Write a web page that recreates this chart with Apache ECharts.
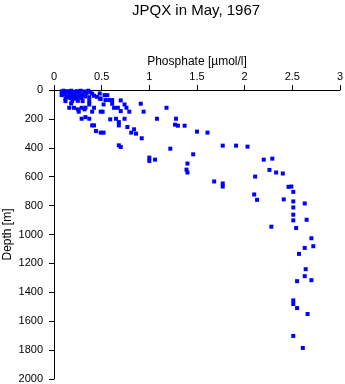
<!DOCTYPE html>
<html>
<head>
<meta charset="utf-8">
<script src="https://cdn.jsdelivr.net/npm/echarts@6/dist/echarts.min.js"></script>
<style>
html,body{margin:0;padding:0;background:#fff;}
#chart{width:345px;height:384px;}
</style>
</head>
<body>
<div id="chart"></div>
<script>
var titleText = "JPQX in May, 1967";
var xName = "Phosphate [\u00b5mol/l]";
var yName = "Depth [m]";
var xTicks = [0, 0.5, 1, 1.5, 2, 2.5, 3];
var yTicks = [0, 200, 400, 600, 800, 1000, 1200, 1400, 1600, 1800, 2000];

var phosphate = [
  0.08,0.10,0.12,0.14,0.16,0.18,0.20,0.22,0.24,0.26,0.28,0.30,0.32,0.34,0.36,0.38,0.40,
  0.11,0.15,0.19,0.23,0.27,0.09,0.13,0.17,0.21,0.25,0.29,0.33,0.37,0.42,0.08,0.12,
  0.48,0.53,0.56,0.45,0.48,0.49,0.54,0.58,0.61,0.52,0.61,0.63,0.67,0.70,0.70,0.74,0.76,0.79,0.91,0.94,
  0.12,0.18,0.19,0.25,0.30,0.37,0.16,0.21,0.25,0.26,0.29,0.32,0.33,0.37,0.40,0.42,
  0.29,0.33,0.37,0.40,0.42,0.44,0.49,0.52,0.49,0.51,
  0.59,0.65,0.68,0.68,0.74,0.77,0.81,0.84,0.86,0.92,0.68,0.70,
  1.00,1.00,1.06,1.08,1.18,1.28,1.27,1.30,1.37,1.50,1.61,1.22,1.46,1.40,1.39,1.40,
  1.77,1.91,2.03,2.20,2.29,2.26,2.33,2.40,2.11,1.68,1.77,1.77,2.46,2.49,2.51,2.10,2.13,
  2.41,2.51,2.63,2.51,2.51,2.51,2.65,2.28,2.54,2.70,2.63,2.72,2.57,2.64,2.63,2.55,2.70,
  2.51,2.51,2.55,2.66,2.51,2.61
];
var depth = [
  10,5,15,8,20,5,12,25,8,18,5,30,10,20,5,15,25,
  30,40,35,45,38,25,50,55,60,50,55,45,50,40,35,60,
  24,36,36,47,58,62,70,70,70,100,95,123,123,72,146,100,123,150,95,150,
  77,93,77,75,77,77,123,123,134,150,123,134,123,100,150,123,
  199,188,199,245,245,284,295,295,150,150,
  203,199,222,245,199,256,295,272,302,334,383,394,
  468,491,482,199,123,199,240,247,247,288,295,406,445,509,551,571,
  385,385,392,482,475,553,571,578,599,633,647,668,670,668,705,723,760,
  757,771,785,813,863,902,898,946,955,1026,1093,1081,1134,1240,1288,1323,1316,
  1456,1481,1509,1550,1702,1785
];

var points = phosphate.map(function(p, i){ return [p, depth[i]]; });

var chart = echarts.init(document.getElementById('chart'), null, {renderer:'canvas'});
var font = 'Liberation Sans, Arial, Helvetica, sans-serif';
chart.setOption({
  animation: false,
  backgroundColor: '#ffffff',
  title: {
    text: titleText,
    left: 127, top: -2,
    textStyle: {fontFamily: font, fontSize: 15, fontWeight: 'normal', color: '#000'}
  },
  grid: {left: 54, right: 5, top: 90, bottom: 5, containLabel: false, outerBoundsMode: 'none'},
  xAxis: {
    type: 'value', position: 'top',
    min: xTicks[0], max: xTicks[xTicks.length-1], interval: 0.5,
    name: xName, nameLocation: 'middle', nameGap: 22, nameMoveOverlap: false,
    nameTextStyle: {fontFamily: font, fontSize: 12, color: '#000'},
    axisLine: {show: true, onZero: false, lineStyle: {color: '#000', width: 1}},
    axisTick: {show: true, length: 5, lineStyle: {color: '#000'}},
    axisLabel: {fontFamily: font, fontSize: 11, color: '#000', margin: 8,
      formatter: function(v){ return String(v); }},
    splitLine: {show: false}
  },
  yAxis: {
    type: 'value', inverse: true,
    min: yTicks[0], max: yTicks[yTicks.length-1], interval: 200,
    name: yName, nameLocation: 'middle', nameGap: 40, nameMoveOverlap: false,
    nameTextStyle: {fontFamily: font, fontSize: 12, color: '#000'},
    axisLine: {show: true, onZero: false, lineStyle: {color: '#000', width: 1}},
    axisTick: {show: true, length: 5, lineStyle: {color: '#000'}},
    axisLabel: {fontFamily: font, fontSize: 11, color: '#000', margin: 11,
      formatter: function(v){ return String(v); }},
    splitLine: {show: false}
  },
  series: [{
    type: 'scatter',
    data: points,
    symbol: 'rect',
    symbolSize: [4, 4],
    itemStyle: {color: '#0000ff', opacity: 1},
    clip: false
  }]
});
</script>
</body>
</html>
